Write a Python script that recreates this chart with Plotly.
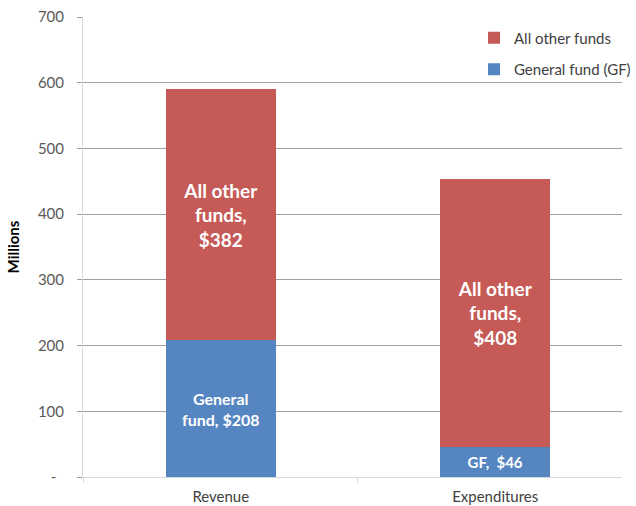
import plotly.graph_objects as go

categories = ["Revenue", "Expenditures"]
general_fund = [208, 46]
other_funds = [382, 408]
gf_labels = ["General<br>fund, $208", "GF,  $46"]
other_labels = ["All other<br>funds,<br>$382", "All other<br>funds,<br>$408"]
y_tickvals = [0, 100, 200, 300, 400, 500, 600, 700]
y_ticktext = ["-  ", "100", "200", "300", "400", "500", "600", "700"]

FONT = "Lato"
BLUE = "#5686C1"
RED = "#C55A57"

fig = go.Figure()
fig.add_trace(go.Bar(
    x=categories, y=general_fund, name="General fund (GF)",
    marker=dict(color=BLUE, line=dict(width=0)), width=0.40,
    text=gf_labels, textposition="inside", insidetextanchor="middle",
    textangle=0, constraintext="none",
    textfont=dict(family=FONT, size=[16, 15], color="white", weight="bold"),
    legendgroup="gf", legendrank=2, hoverinfo="skip",
))
fig.add_trace(go.Bar(
    x=categories, y=other_funds, name="All other funds",
    marker=dict(color=RED, line=dict(width=0)), width=0.40,
    text=other_labels, textposition="inside", insidetextanchor="middle",
    textangle=0, constraintext="none",
    textfont=dict(family=FONT, size=19, color="white", weight="bold"),
    legendgroup="other", legendrank=1, hoverinfo="skip",
))

fig.update_layout(
    barmode="stack",
    width=636, height=506,
    margin=dict(l=83, r=0, t=17, b=29),
    paper_bgcolor="white", plot_bgcolor="white",
    font=dict(family=FONT, size=15, color="#404040"),
    showlegend=True,
    legend=dict(
        x=0.726, y=0.99, xanchor="left", yanchor="top",
        traceorder="grouped", tracegroupgap=9,
        font=dict(family=FONT, size=15, color="#404040"),
        bgcolor="rgba(0,0,0,0)", itemwidth=30,
    ),
    xaxis=dict(
        range=[-0.502, 1.462], showgrid=False,
        showline=True, linecolor="#D9D9D9", linewidth=1,
        ticks="outside", tickson="boundaries", ticklen=5, tickcolor="#D9D9D9",
        ticklabelstandoff=6,
        tickfont=dict(family=FONT, size=15, color="#404040"),
        fixedrange=True,
    ),
    yaxis=dict(
        range=[0, 700], tickvals=y_tickvals, ticktext=y_ticktext,
        showgrid=True, gridcolor="#A0A0A0", gridwidth=1,
        showline=True, linecolor="#D9D9D9", linewidth=1,
        ticks="outside", ticklen=5, tickcolor="#A0A0A0",
        ticklabelstandoff=10,
        tickfont=dict(family=FONT, size=15, color="#595959"),
        zeroline=False, automargin=True,
        title=dict(text="<b>Millions</b>", font=dict(family=FONT, size=15, color="#000000"), standoff=14),
        fixedrange=True,
    ),
)

fig.write_html(
    "out.html",
    config={"displayModeBar": False},
    post_script="document.body.style.margin='0';document.body.style.padding='0';",
)
